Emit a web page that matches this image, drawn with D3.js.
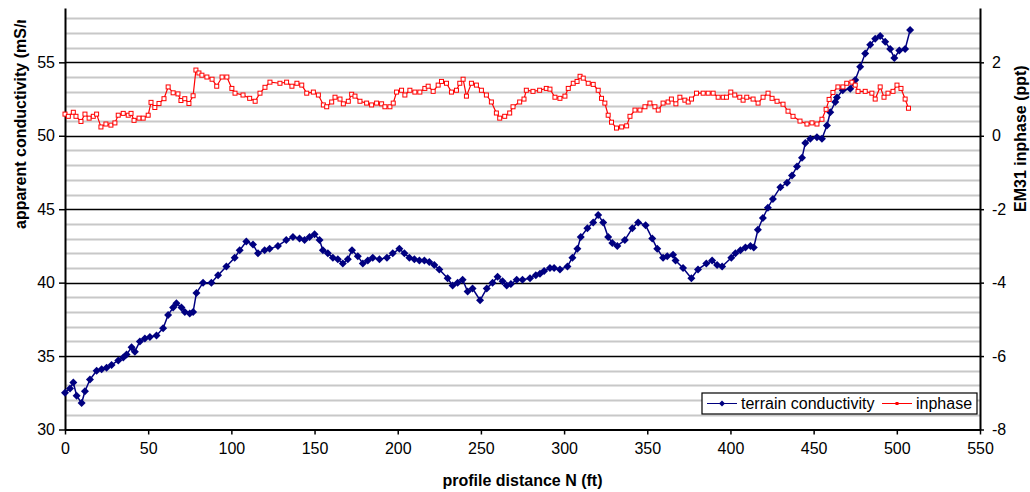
<!DOCTYPE html>
<html>
<head>
<meta charset="utf-8">
<script src="https://cdn.jsdelivr.net/npm/d3@7/dist/d3.min.js"></script>
<style>
  body { margin: 0; background: #fff; }
  svg { display: block; font-family: Arial, "Liberation Sans", sans-serif; }
</style>
</head>
<body>
<div id="chart"></div>
<script>
// terrain conductivity (mS/m), left axis
const distTC = [0, 3, 5, 7, 10, 12, 15, 19, 22, 25, 28, 32, 35, 37, 40, 42, 45, 48, 51, 55, 59, 62, 65, 67, 70, 72, 75, 77, 79, 83, 88, 92, 97, 102,
  105, 109, 113, 116, 120, 123, 128, 133, 137, 141, 144, 147, 150, 153, 155, 158, 161, 164, 167, 170, 172.5, 176, 179, 182, 185, 189, 193.5,
  197, 201, 204, 207, 210, 213, 216, 219, 222, 225, 230, 233, 236, 239, 242, 245, 249.5, 253.5, 257, 260, 263, 265.5, 268, 271.5, 275,
  279.5, 283, 285.5, 288, 291.5, 294, 297.5, 302, 305, 308, 310, 314, 317.5, 320.5, 323.5, 326.5, 329, 332, 336.5, 341, 344.5, 349,
  353, 356, 359.5, 362, 365.5, 367, 371.5, 376.5, 380.5, 385.5, 389, 392, 395, 400.5, 403, 406, 409, 412, 414, 416.5, 419.5, 422.5,
  425.5, 430, 434, 437, 440, 443, 445, 448, 452, 455, 458, 460, 463, 464, 467.5, 472, 475, 478, 481, 484, 487, 490, 493, 496, 498.5,
  501.5, 505, 508];
const conductivity = [32.5, 32.8, 33.2, 32.3, 31.8, 32.6, 33.4, 34.0, 34.1, 34.2, 34.4, 34.7, 34.9, 35.1, 35.6, 35.3, 36.0, 36.2, 36.3,
  36.4, 36.9, 37.8, 38.3, 38.6, 38.3, 38.0, 37.9, 38.0, 39.3, 40.0, 40.0, 40.5, 41.1, 41.7,
  42.2, 42.8, 42.6, 42.0, 42.2, 42.3, 42.5, 42.9, 43.1, 43.0, 42.9, 43.1, 43.3, 42.9, 42.2, 42.0, 41.7, 41.6, 41.3, 41.6, 42.2, 41.8,
  41.3, 41.5, 41.7, 41.6, 41.7, 42.0, 42.3, 42.0, 41.7, 41.6, 41.5, 41.5, 41.4, 41.2, 40.9, 40.3, 39.8, 40.0, 40.2, 39.4, 39.6, 38.8,
  39.6, 40.0, 40.4, 40.1, 39.8, 39.9, 40.2, 40.2, 40.3, 40.5, 40.6, 40.8, 41.0, 41.0, 40.9, 41.1, 41.7, 42.3, 43.1, 43.7, 44.1, 44.6,
  44.1, 43.1, 42.7, 42.5, 42.9, 43.7, 44.1, 43.9, 43.0, 42.3, 41.7, 41.8, 41.9, 41.5, 41.0, 40.3, 40.9, 41.3, 41.5, 41.2, 41.1, 41.7,
  42.0, 42.2, 42.4, 42.5, 42.4, 43.6, 44.4, 45.1, 45.7, 46.5, 46.8, 47.3, 47.9, 48.5, 49.5, 49.8, 49.9, 49.8, 50.7, 51.6, 52.3, 52.6,
  53.1, 53.2, 53.8, 54.7, 55.6, 56.2, 56.6, 56.8, 56.4, 55.9, 55.3, 55.8, 55.9, 57.2];

// EM31 inphase (ppt), right axis
const distIP = [0, 2, 5, 6.6, 9.6, 12, 14.5, 17, 19, 21.6, 24.6, 27.6, 30, 32, 35, 38, 39.7, 41.5, 44.5, 47, 50, 51.7, 54, 56.5, 59.5,
  62, 65, 67.9, 69.7, 72, 74.5, 77, 78.7, 80.5, 82.3, 85.3, 88.4, 91.2, 94.4, 97.3, 100.3, 102.2, 107, 111, 114.3, 117.2, 120.2,
  123.2, 129.2, 133.2, 136.4, 139.4, 142.3, 145.3, 149.3, 152.3, 155.3, 157.3, 160.3, 162.3, 165.3, 167.3, 170.3, 172.3, 174.3,
  177.3, 181.3, 184.3, 187.3, 190.3, 192.3, 195.3, 197.3, 199.3, 202.3, 204.3, 207.3, 210.3, 213.3, 216.3, 218.3, 221.3, 224.3,
  226.3, 229.3, 232.3, 235.3, 237.3, 239.3, 241.3, 244.3, 247.3, 250.3, 253.3, 256.3, 259.3, 261.3, 264.3, 267.3, 269.3, 273.3,
  275.9, 277.3, 281.3, 285.3, 289.3, 291.5, 294.5, 297.5, 300.5, 302.5, 305.5, 307.8, 309.6, 311.5, 314.5, 317.5, 320.5, 322.5,
  324.5, 326.5, 328.5, 331.5, 334.6, 337.6, 339.6, 342.6, 345.6, 348.6, 351.6, 354.6, 356.6, 359.5, 362.5, 364.5, 367.2, 369.6,
  372.6, 374.6, 376.6, 379.6, 383.6, 386.6, 389.6, 392.6, 395.6, 397.6, 400.2, 402.6, 405.6, 407.6, 409.8, 413.6, 416.6, 419.6,
  422.6, 425, 428, 431.6, 434.6, 437.6, 441.8, 446, 449, 452, 455, 457.5, 459.3, 461.6, 464.6, 467.6, 469.9, 473, 475, 476.7, 481,
  485, 487, 490, 492.3, 494.7, 497.7, 500.1, 502.5, 505, 507];
const inphase = [0.59, 0.53, 0.64, 0.53, 0.39, 0.59, 0.48, 0.53, 0.59, 0.24, 0.32, 0.29, 0.35, 0.56, 0.61, 0.56, 0.61, 0.42, 0.48, 0.48,
  0.56, 0.91, 0.77, 0.88, 1.01, 1.33, 1.17, 1.14, 0.96, 1.01, 0.88, 1.09, 1.79, 1.71, 1.65, 1.60, 1.54, 1.35, 1.60, 1.60, 1.29, 1.16,
  1.11, 1.02, 0.94, 1.16, 1.32, 1.46, 1.43, 1.46, 1.35, 1.43, 1.38, 1.16, 1.19, 1.11, 0.84, 0.79, 0.92, 1.05, 1.00, 0.87, 0.94, 1.13,
  1.08, 0.94, 0.89, 0.84, 0.89, 0.87, 0.79, 0.79, 0.89, 1.19, 1.24, 1.11, 1.24, 1.19, 1.19, 1.29, 1.35, 1.21, 1.38, 1.48, 1.43, 1.19,
  1.24, 1.43, 1.54, 1.08, 1.43, 1.38, 1.24, 1.11, 0.92, 0.62, 0.48, 0.53, 0.62, 0.79, 0.92, 1.00, 1.24, 1.21, 1.24, 1.29, 1.27, 1.05,
  1.02, 1.08, 1.29, 1.43, 1.48, 1.62, 1.57, 1.43, 1.40, 1.24, 1.02, 0.89, 0.56, 0.37, 0.21, 0.24, 0.27, 0.53, 0.70, 0.70, 0.79, 0.89,
  0.79, 0.70, 0.89, 0.92, 1.00, 0.87, 1.05, 0.97, 0.92, 1.00, 1.16, 1.16, 1.16, 1.16, 1.05, 1.05, 1.05, 1.19, 1.11, 1.05, 0.97, 1.05,
  1.00, 0.89, 1.05, 1.16, 1.02, 0.94, 0.86, 0.67, 0.53, 0.40, 0.32, 0.35, 0.32, 0.45, 0.72, 0.99, 1.18, 1.33, 1.33, 1.43, 1.46, 1.38,
  1.21, 1.21, 1.16, 1.00, 1.33, 1.05, 1.16, 1.21, 1.38, 1.29, 1.00, 0.75];

// axis ticks
const xTicks = [0, 50, 100, 150, 200, 250, 300, 350, 400, 450, 500, 550];
const leftTicks = [30, 35, 40, 45, 50, 55];
const rightTicks = [-8, -6, -4, -2, 0, 2];
const seriesNames = ['terrain conductivity', 'inphase'];

const width = 1030, height = 492;
const plot = { left: 65, right: 980, top: 8, bottom: 429.5 };
const fontSize = 16;

const svg = d3.select('#chart').append('svg')
  .attr('width', width)
  .attr('height', height);

const x = d3.scaleLinear().domain([0, 550]).range([plot.left, plot.right]);
const yL = d3.scaleLinear().domain([30, 58.7]).range([plot.bottom, plot.top]);
const yR = d3.scaleLinear().domain([-8, 3.48]).range([plot.bottom, plot.top]);

// minor gridlines every 1 mS/m, major every 5
const minor = d3.range(31, 59).filter(v => v % 5 !== 0);
svg.append('g').selectAll('line')
  .data(minor)
  .enter().append('line')
  .attr('x1', plot.left).attr('x2', plot.right)
  .attr('y1', d => Math.round(yL(d)) + 0.5).attr('y2', d => Math.round(yL(d)) + 0.5)
  .attr('stroke', '#c8c8c8').attr('stroke-width', 2);

svg.append('g').selectAll('line')
  .data(leftTicks.slice(1))
  .enter().append('line')
  .attr('x1', plot.left).attr('x2', plot.right)
  .attr('y1', d => Math.round(yL(d)) + 0.5).attr('y2', d => Math.round(yL(d)) + 0.5)
  .attr('stroke', '#000').attr('stroke-width', 1.5);

// axes (plain hyphen for negatives, like the original)
const fmt = d => String(d);
const xAxis = d3.axisBottom(x).tickValues(xTicks).tickFormat(fmt).tickSize(5).tickPadding(8);
const leftAxis = d3.axisLeft(yL).tickValues(leftTicks).tickFormat(fmt).tickSize(6).tickPadding(4);
const rightAxis = d3.axisRight(yR).tickValues(rightTicks).tickFormat(fmt).tickSize(4).tickPadding(8);

function styleAxis(g) {
  g.select('.domain').attr('stroke', '#000').attr('stroke-width', 2);
  g.selectAll('.tick line').attr('stroke', '#000').attr('stroke-width', 1.5);
  g.selectAll('.tick text').attr('font-size', fontSize).attr('fill', '#000')
    .attr('font-family', 'Arial, "Liberation Sans", sans-serif');
}

svg.append('g')
  .attr('transform', `translate(0,${plot.bottom})`)
  .call(xAxis.tickSizeOuter(0))
  .call(styleAxis);

svg.append('g')
  .attr('transform', `translate(${plot.left},0)`)
  .call(leftAxis.tickSizeOuter(0))
  .call(styleAxis);

svg.append('g')
  .attr('transform', `translate(${plot.right},0)`)
  .call(rightAxis.tickSizeOuter(0))
  .call(styleAxis);

// axis titles, cut off at the top as in the original
svg.append('clipPath').attr('id', 'clipL')
  .append('rect').attr('x', 0).attr('y', 20).attr('width', 40).attr('height', 470);
svg.append('clipPath').attr('id', 'clipR')
  .append('rect').attr('x', 995).attr('y', 57).attr('width', 40).attr('height', 435);

svg.append('g').attr('clip-path', 'url(#clipL)')
  .append('text')
  .attr('transform', 'translate(26,229) rotate(-90)')
  .attr('font-size', fontSize).attr('font-weight', 'bold')
  .text('apparent conductivity (mS/m)');

svg.append('g').attr('clip-path', 'url(#clipR)')
  .append('text')
  .attr('transform', 'translate(1026,212) rotate(-90)')
  .attr('font-size', fontSize).attr('font-weight', 'bold')
  .text('EM31 inphase (ppt)');

svg.append('text')
  .attr('x', (plot.left + plot.right) / 2).attr('y', 486)
  .attr('text-anchor', 'middle')
  .attr('font-size', fontSize).attr('font-weight', 'bold')
  .text('profile distance N (ft)');

// series
const tcData = distTC.map((d, i) => ({ x: d, y: conductivity[i] }));
const ipData = distIP.map((d, i) => ({ x: d, y: inphase[i] }));

const diamond = 'M0,-4L4,0L0,4L-4,0Z';

const lineTC = d3.line().x(d => x(d.x)).y(d => yL(d.y));
const lineIP = d3.line().x(d => x(d.x)).y(d => yR(d.y));

svg.append('path')
  .datum(tcData)
  .attr('d', lineTC)
  .attr('fill', 'none').attr('stroke', '#000080').attr('stroke-width', 1.5);

svg.append('g').selectAll('path')
  .data(tcData)
  .enter().append('path')
  .attr('d', diamond)
  .attr('transform', d => `translate(${x(d.x)},${yL(d.y)})`)
  .attr('fill', '#000080');

svg.append('path')
  .datum(ipData)
  .attr('d', lineIP)
  .attr('fill', 'none').attr('stroke', '#ff0000').attr('stroke-width', 1.2);

svg.append('g').selectAll('rect')
  .data(ipData)
  .enter().append('rect')
  .attr('x', d => x(d.x) - 2).attr('y', d => yR(d.y) - 2)
  .attr('width', 4).attr('height', 4)
  .attr('fill', '#fff').attr('stroke', '#ff0000').attr('stroke-width', 1);

// legend
const legend = svg.append('g').attr('transform', 'translate(702,393)');
legend.append('rect')
  .attr('width', 275).attr('height', 21)
  .attr('fill', '#fff').attr('stroke', '#000').attr('stroke-width', 1.2);

const lg1 = legend.append('g').attr('transform', 'translate(5,10.5)');
lg1.append('line').attr('x1', 0).attr('x2', 30).attr('stroke', '#000080');
lg1.append('path').attr('d', 'M0,-3L3,0L0,3L-3,0Z').attr('transform', 'translate(15,0)').attr('fill', '#000080');
lg1.append('text').attr('x', 34).attr('y', 5.5).attr('font-size', fontSize).text(seriesNames[0]);

const lg2 = legend.append('g').attr('transform', 'translate(180,10.5)');
lg2.append('line').attr('x1', 0).attr('x2', 30).attr('stroke', '#ff0000');
lg2.append('rect').attr('x', 13.5).attr('y', -1.5).attr('width', 3).attr('height', 3)
  .attr('fill', '#ff0000');
lg2.append('text').attr('x', 34).attr('y', 5.5).attr('font-size', fontSize).text(seriesNames[1]);
</script>
</body>
</html>
